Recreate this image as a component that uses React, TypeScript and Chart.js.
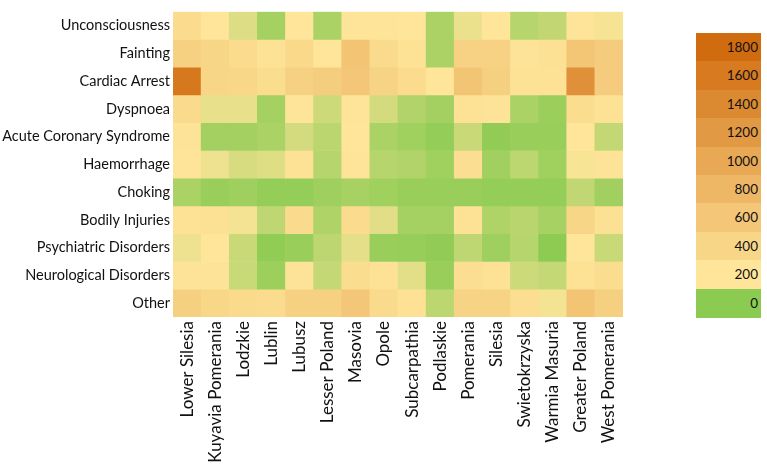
import React, { useEffect, useRef } from "react";
import { Chart, registerables } from "chart.js";

Chart.register(...registerables);

const regions = [
  "Lower Silesia", "Kuyavia Pomerania", "Lodzkie", "Lublin", "Lubusz", "Lesser Poland",
  "Masovia", "Opole", "Subcarpathia", "Podlaskie", "Pomerania", "Silesia",
  "Swietokrzyska", "Warmia Masuria", "Greater Poland", "West Pomerania",
];

const conditions = [
  "Unconsciousness", "Fainting", "Cardiac Arrest", "Dyspnoea", "Acute Coronary Syndrome",
  "Haemorrhage", "Choking", "Bodily Injuries", "Psychiatric Disorders",
  "Neurological Disorders", "Other",
];

const unconsciousness = [318, 200, 140, 44, 200, 54, 210, 210, 200, 56, 167, 200, 75, 95, 210, 186];
const fainting = [462, 397, 318, 240, 357, 200, 633, 344, 240, 56, 449, 449, 226, 266, 607, 528];
const cardiacArrest = [1630, 397, 384, 305, 462, 515, 600, 436, 318, 200, 620, 475, 240, 240, 1315, 528];
const dyspnoea = [344, 163, 163, 44, 210, 114, 210, 125, 65, 40, 240, 226, 54, 26, 305, 240];
const acuteCoronary = [220, 40, 40, 54, 125, 82, 200, 54, 35, 14, 107, 10, 25, 21, 200, 96];
const haemorrhage = [210, 172, 133, 144, 240, 75, 215, 75, 65, 35, 292, 39, 84, 35, 189, 226];
const choking = [54, 25, 33, 14, 14, 33, 49, 35, 21, 25, 25, 14, 14, 14, 93, 39];
const bodilyInjuries = [240, 266, 182, 89, 331, 63, 318, 149, 44, 44, 240, 63, 79, 49, 397, 266];
const psychiatric = [172, 205, 107, 9, 25, 86, 156, 25, 19, 10, 89, 33, 75, 2, 200, 107];
const neurological = [226, 226, 105, 28, 226, 100, 305, 240, 151, 23, 292, 252, 112, 100, 252, 305];
const other = [475, 384, 344, 318, 462, 462, 593, 331, 240, 84, 436, 436, 292, 182, 633, 475];

const matrix = [
  unconsciousness, fainting, cardiacArrest, dyspnoea, acuteCoronary, haemorrhage,
  choking, bodilyInjuries, psychiatric, neurological, other,
];

const legendValues = [1800, 1600, 1400, 1200, 1000, 800, 600, 400, 200, 0];

const GREEN = [140, 203, 82];
const YELLOW = [254, 229, 153];
const ORANGE = [209, 107, 15];

function mix(a: number[], b: number[], t: number) {
  const c = a.map((x, i) => Math.round(x + (b[i] - x) * t));
  return `rgb(${c[0]},${c[1]},${c[2]})`;
}

function colorFor(v: number) {
  if (v <= 200) return mix(GREEN, YELLOW, Math.max(0, v) / 200);
  return mix(YELLOW, ORANGE, Math.min(1, (v - 200) / 1600));
}

const FONT = "Lato, 'Liberation Sans', sans-serif";

export default function App() {
  const ref = useRef<HTMLCanvasElement | null>(null);

  useEffect(() => {
    if (!ref.current) return;
    const datasets = matrix.map((row, r) => ({
      label: conditions[r],
      data: row.map(() => [r, r + 1]),
      backgroundColor: row.map(colorFor),
      borderWidth: 0,
      barPercentage: 1,
      categoryPercentage: 1,
      grouped: false,
    }));
    const chart = new Chart(ref.current, {
      type: "bar",
      data: { labels: regions, datasets: datasets as any },
      options: {
        animation: false,
        responsive: false,
        maintainAspectRatio: false,
        layout: { padding: { top: 5, right: 144, left: 0, bottom: 0 } },
        plugins: { legend: { display: false }, tooltip: { enabled: false } },
        scales: {
          x: {
            grid: { display: false, drawTicks: false },
            border: { display: false },
            ticks: {
              minRotation: 90,
              maxRotation: 90,
              autoSkip: false,
              padding: 4,
              color: "#111",
              font: { family: FONT, size: 17 },
            },
            afterFit: (s: any) => {
              s.height = 147;
            },
          },
          y: {
            type: "linear",
            min: 0,
            max: 11,
            reverse: true,
            grid: { display: false, drawTicks: false },
            border: { display: false },
            ticks: {
              padding: 3,
              color: "#111",
              font: { family: FONT, size: 14.5 },
              callback: (v: any) => conditions[Math.floor(Number(v))] ?? "",
            },
            afterBuildTicks: (s: any) => {
              s.ticks = conditions.map((_, i) => ({ value: i + 0.5 }));
            },
            afterFit: (s: any) => {
              s.width = 173;
            },
          },
        },
      },
    });
    return () => chart.destroy();
  }, []);

  const boxH = 28.4;
  return (
    <div style={{ position: "fixed", left: 0, top: 0, width: 767, height: 464, background: "#fff" }}>
      <canvas ref={ref} width={767} height={464} style={{ position: "absolute", left: 0, top: 0 }} />
      {legendValues.map((v, i) => (
        <div
          key={v}
          style={{
            position: "absolute",
            left: 696,
            top: 33 + i * boxH,
            width: 65,
            height: boxH + 0.6,
            background: colorFor(v),
            color: "#111",
            fontFamily: FONT,
            fontSize: 13.5,
            lineHeight: `${boxH}px`,
            textAlign: "right",
            paddingRight: 3,
            boxSizing: "border-box",
          }}
        >
          {v}
        </div>
      ))}
    </div>
  );
}
